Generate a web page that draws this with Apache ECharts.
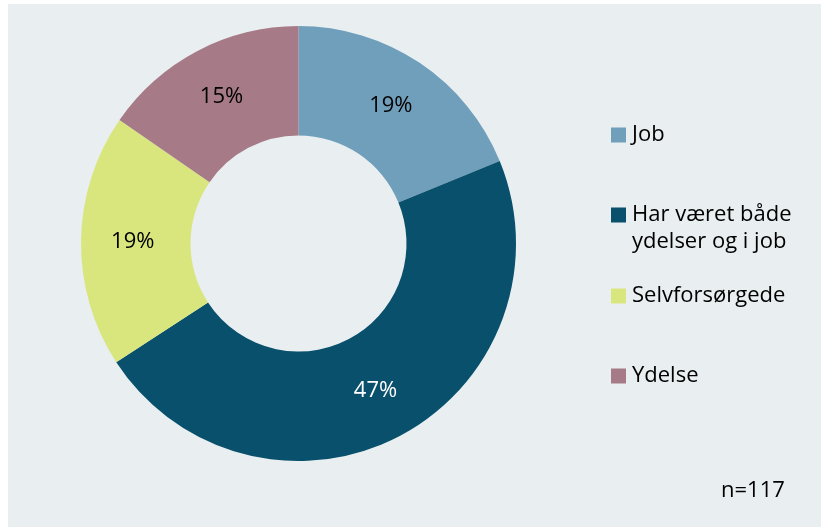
<!DOCTYPE html>
<html>
<head>
<meta charset="utf-8">
<script src="https://cdn.jsdelivr.net/npm/echarts@6/dist/echarts.min.js"></script>
<style>
html,body{margin:0;padding:0;background:#fff;}
#c{width:821px;height:527px;}
</style>
</head>
<body>
<div id="c"></div>
<script>
const categories = ['Job', 'Har været både ydelser og i job', 'Selvforsørgede', 'Ydelse'];
const legendLabels = ['Job', 'Har været både', 'Selvforsørgede', 'Ydelse'];
const values = [22, 55, 22, 18];
const colors = ['#6f9fba', '#08506b', '#d9e67e', '#a67a87'];
const labelColors = ['#000', '#fff', '#000', '#000'];
const nText = 'n=117';

const FONT = '"Open Sans", sans-serif';
const FS = 22;
const chart = echarts.init(document.getElementById('c'));
const legendTops = [124, 204, 285, 365];

const legends = categories.map((c, i) => ({
  data: [c],
  left: 611,
  top: legendTops[i],
  padding: 0,
  orient: 'vertical',
  itemWidth: 15,
  itemHeight: 15,
  icon: 'rect',
  selectedMode: false,
  formatter: () => legendLabels[i],
  textStyle: { fontFamily: FONT, fontSize: FS, color: '#000', padding: [0, 0, 0, 1] }
}));

chart.setOption({
  backgroundColor: '#ffffff',
  animation: false,
  graphic: [
    { type: 'rect', z: -10, shape: { x: 8, y: 4, width: 821, height: 530 }, style: { fill: '#e9eef1' } },
    { type: 'text', left: 632, top: 231, style: { text: 'ydelser og i job', font: FS + 'px ' + FONT, fill: '#000' } },
    { type: 'text', left: 721, top: 480, style: { text: nText, font: FS + 'px ' + FONT, fill: '#000' } }
  ],
  legend: legends,
  series: [{
    type: 'pie',
    center: [298.5, 243.5],
    radius: [108, 217.5],
    startAngle: 90,
    clockwise: true,
    avoidLabelOverlap: false,
    label: {
      show: true,
      position: 'inside',
      fontFamily: FONT,
      fontSize: FS,
      formatter: p => p.percent.toFixed(0) + '%'
    },
    labelLine: { show: false },
    itemStyle: { borderWidth: 0 },
    emphasis: { disabled: true },
    data: categories.map((c, i) => ({
      name: c,
      value: values[i],
      itemStyle: { color: colors[i] },
      label: { color: labelColors[i] }
    }))
  }]
});
</script>
</body>
</html>
